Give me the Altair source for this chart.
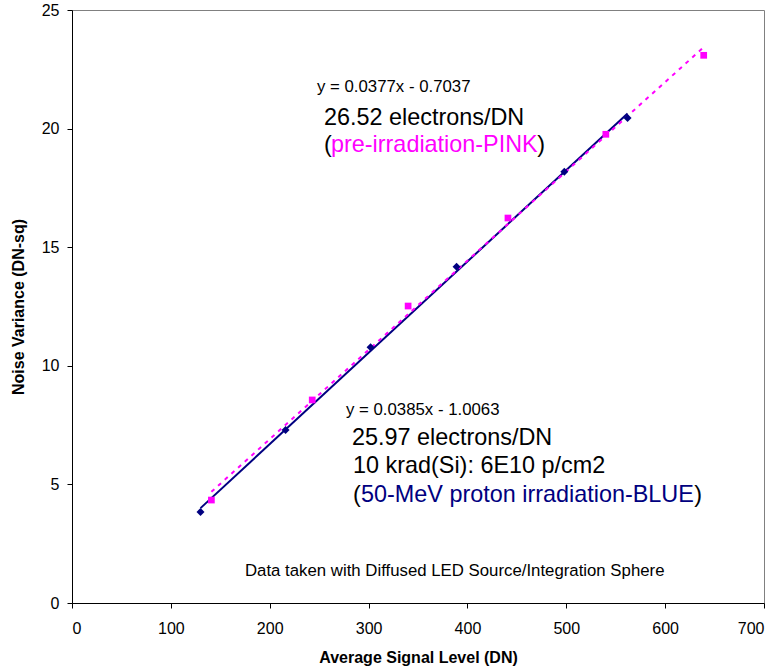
import altair as alt
import pandas as pd

# ---- data ----
blue_x = [130, 216, 302, 389, 498, 562]
blue_y = [3.84, 7.29, 10.78, 14.18, 18.18, 20.45]
pink_x = [141, 243, 340, 441, 540, 639]
pink_y = [4.34, 8.56, 12.52, 16.23, 19.76, 23.09]

x_ticks = [0, 100, 200, 300, 400, 500, 600, 700]
y_ticks = [0, 5, 10, 15, 20, 25]

eq_pink = "y = 0.0377x - 0.7037"
eq_blue = "y = 0.0385x - 1.0063"
txt_pink_rate = "26.52 electrons/DN"
txt_pink_label = "pre-irradiation-PINK"
txt_blue_rate = "25.97 electrons/DN"
txt_blue_dose = "10 krad(Si): 6E10 p/cm2"
txt_blue_label = "50-MeV proton irradiation-BLUE"
txt_note = "Data taken with Diffused LED Source/Integration Sphere"

BLUE = "#000080"
PINK = "#FF00FF"
FONT = "Liberation Sans"

# ---- layout ----
W, H = 692, 593
LEFT, TOP = 72, 10
XMAX, YMAX = 700, 25
BIG = 23.4
SMALL = 16.8


def dx(p):
    return (p - LEFT) / W * XMAX


def dy(p):
    return (TOP + H - p) / H * YMAX


blue_df = pd.DataFrame({"x": blue_x, "y": blue_y})
pink_df = pd.DataFrame({"x": pink_x, "y": pink_y})

xs = alt.Scale(domain=[0, XMAX], nice=False, zero=True)
ys = alt.Scale(domain=[0, YMAX], nice=False, zero=True)

x_enc = alt.X(
    "x:Q", scale=xs,
    axis=alt.Axis(
        values=x_ticks, title="Average Signal Level (DN)",
        titleX=W / 2, titleY=54, titleBaseline="middle", titleAlign="center",
        labelPadding=12,
    ),
)
y_enc = alt.Y(
    "y:Q", scale=ys,
    axis=alt.Axis(
        values=y_ticks, title="Noise Variance (DN-sq)",
        titleX=-54, titleY=H / 2, titleAngle=-90, titleBaseline="middle",
        titleAlign="center", labelPadding=8,
    ),
)

blue_fit = alt.Chart(blue_df).transform_regression("x", "y").mark_line(
    color=BLUE, strokeWidth=2
).encode(x=x_enc, y=y_enc)

pink_fit = alt.Chart(pink_df).transform_regression("x", "y").mark_line(
    color=PINK, strokeWidth=2, strokeDash=[4, 5]
).encode(x=x_enc, y=y_enc)

blue_pts = alt.Chart(blue_df).mark_point(
    shape="diamond", filled=True, color=BLUE, size=64, opacity=1
).encode(x=x_enc, y=y_enc)

pink_pts = alt.Chart(pink_df).mark_point(
    shape="square", filled=True, color=PINK, size=45, opacity=1
).encode(x=x_enc, y=y_enc)


def label(text, px, py, size, color="black", align="left"):
    df = pd.DataFrame({"x": [dx(px)], "y": [dy(py)], "t": [text]})
    return alt.Chart(df).mark_text(
        align=align, baseline="alphabetic", font=FONT, fontSize=size, color=color
    ).encode(
        x=alt.X("x:Q", scale=xs), y=alt.Y("y:Q", scale=ys), text="t:N"
    )


texts = [
    label(eq_pink, 317, 92, SMALL),
    label(txt_pink_rate, 324, 125, BIG),
    label("(", 324, 152, BIG),
    label(txt_pink_label, 331, 152, BIG, PINK),
    label(")", 545, 152, BIG, align="right"),
    label(eq_blue, 346, 415, SMALL),
    label(txt_blue_rate, 352, 445, BIG),
    label(txt_blue_dose, 353, 473, BIG),
    label("(", 353, 502, BIG),
    label(txt_blue_label, 361, 502, BIG, BLUE),
    label(")", 702, 502, BIG, align="right"),
    label(txt_note, 245, 576, SMALL),
]

chart = alt.layer(blue_fit, pink_fit, blue_pts, pink_pts, *texts).properties(
    width=W, height=H,
    autosize=alt.AutoSizeParams(type="none"),
    padding={"left": LEFT, "top": TOP, "right": 778 - LEFT - W, "bottom": 670 - TOP - H},
    background="white",
).configure_view(
    stroke="#808080", strokeWidth=1
).configure_axis(
    grid=False,
    domainColor="#000000", domainWidth=1,
    tickColor="#000000", tickSize=5, tickWidth=1,
    labelFont=FONT, labelFontSize=16, labelColor="black",
    titleFont=FONT, titleFontSize=16, titleFontWeight="bold", titleColor="black",
)

chart.save("out.html", embed_options={"renderer": "svg", "actions": False})
